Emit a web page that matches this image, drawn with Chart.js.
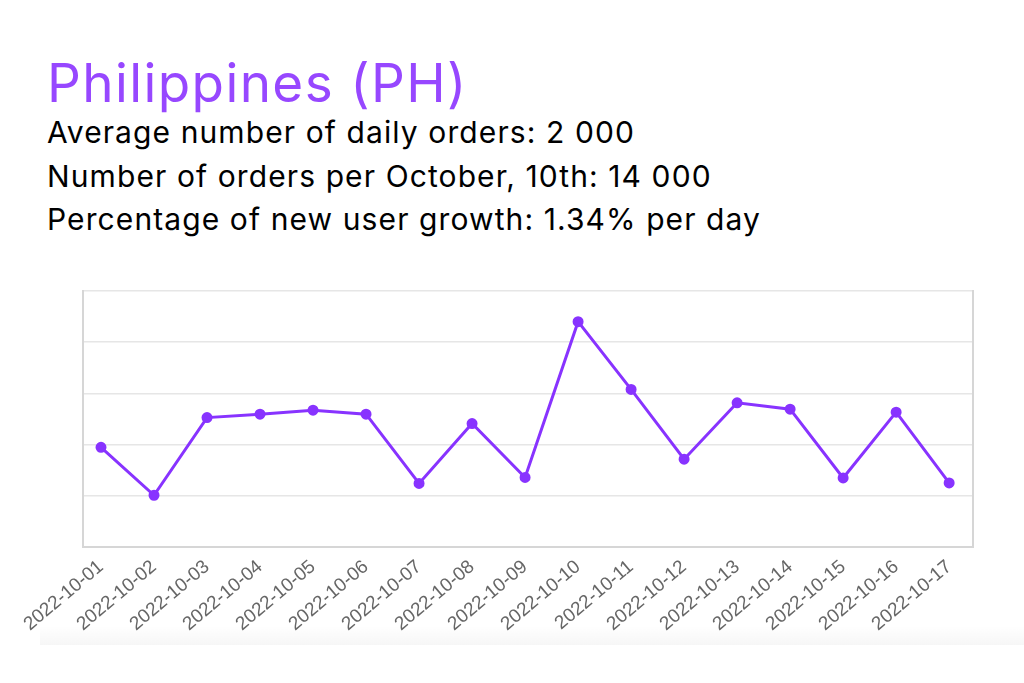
<!DOCTYPE html>
<html>
<head>
<meta charset="utf-8">
<script src="https://cdn.jsdelivr.net/npm/chart.js@4.4.0/dist/chart.umd.min.js"></script>
<style>
  html, body { margin: 0; padding: 0; background: #fff; width: 1024px; height: 683px; overflow: hidden; }
  .t { position: absolute; left: 47px; font-family: Inter, "Noto Sans", sans-serif; white-space: nowrap; }
  #title { top: 53px; font-size: 53px; line-height: 60px; letter-spacing: 1.4px; color: #9747FF; font-weight: 400; }
  .line { font-size: 30px; line-height: 43px; letter-spacing: 1.1px; color: #000; }
  #l1 { top: 111px; }
  #l2 { top: 155px; }
  #l3 { top: 198px; }
  #wrap { position: absolute; left: 0; top: 280px; width: 1024px; height: 403px; }
  #shade { position: absolute; left: 40px; right: 0; top: 626px; height: 19px;
           background: linear-gradient(to bottom, rgba(0,0,0,0), rgba(0,0,0,0.035)); }
</style>
</head>
<body>
<div id="title" class="t">Philippines (PH)</div>
<div id="l1" class="t line">Average number of daily orders: 2 000</div>
<div id="l2" class="t line">Number of orders per October, 10th: 14 000</div>
<div id="l3" class="t line">Percentage of new user growth: 1.34% per day</div>
<div id="shade"></div>
<div id="wrap"><canvas id="c"></canvas></div>
<script>
const dates = ["2022-10-01","2022-10-02","2022-10-03","2022-10-04","2022-10-05","2022-10-06","2022-10-07","2022-10-08","2022-10-09","2022-10-10","2022-10-11","2022-10-12","2022-10-13","2022-10-14","2022-10-15","2022-10-16","2022-10-17"];
const orders = [2010, 1040, 2610, 2680, 2760, 2680, 1280, 2490, 1400, 4550, 3180, 1770, 2910, 2780, 1390, 2720, 1290];
const yMax = 5170;
const yStep = 1000;

const points = orders.map((v, i) => ({ x: i, y: v }));

new Chart(document.getElementById('c'), {
  type: 'line',
  data: {
    datasets: [{
      data: points,
      borderColor: '#8833ff',
      backgroundColor: '#8833ff',
      borderWidth: 3,
      pointRadius: 4,
      pointHoverRadius: 4,
      tension: 0,
      fill: false
    }]
  },
  options: {
    responsive: true,
    maintainAspectRatio: false,
    animation: false,
    layout: { padding: { top: 11, right: 51, left: 0, bottom: 0 } },
    plugins: { legend: { display: false }, tooltip: { enabled: false } },
    scales: {
      x: {
        type: 'linear',
        min: -0.334,
        max: 16.45,
        afterFit: s => { s.height = 136.3; },
        grid: { display: true, drawOnChartArea: false, drawTicks: false, color: 'rgba(0,0,0,0)' },
        border: { display: true, color: '#d6d6d6', width: 2 },
        ticks: {
          stepSize: 1,
          includeBounds: false,
          autoSkip: false,
          minRotation: 40,
          maxRotation: 40,
          padding: 9,
          color: '#666',
          font: { family: '"Liberation Sans", Arial, sans-serif', size: 19 },
          callback: v => dates[v]
        }
      },
      y: {
        min: 0,
        max: yMax,
        afterFit: s => { s.width = 83.3; },
        grid: { color: '#e6e6e6', lineWidth: 1.5, drawTicks: false },
        border: { display: true, color: '#d6d6d6', width: 2 },
        ticks: { display: false, stepSize: yStep, includeBounds: false }
      },
      y2: {
        position: 'right',
        display: true,
        afterFit: s => { s.width = 0; },
        grid: { display: true, drawOnChartArea: false, drawTicks: false },
        border: { display: true, color: '#d6d6d6', width: 2 },
        ticks: { display: false }
      }
    }
  }
});
</script>
</body>
</html>
